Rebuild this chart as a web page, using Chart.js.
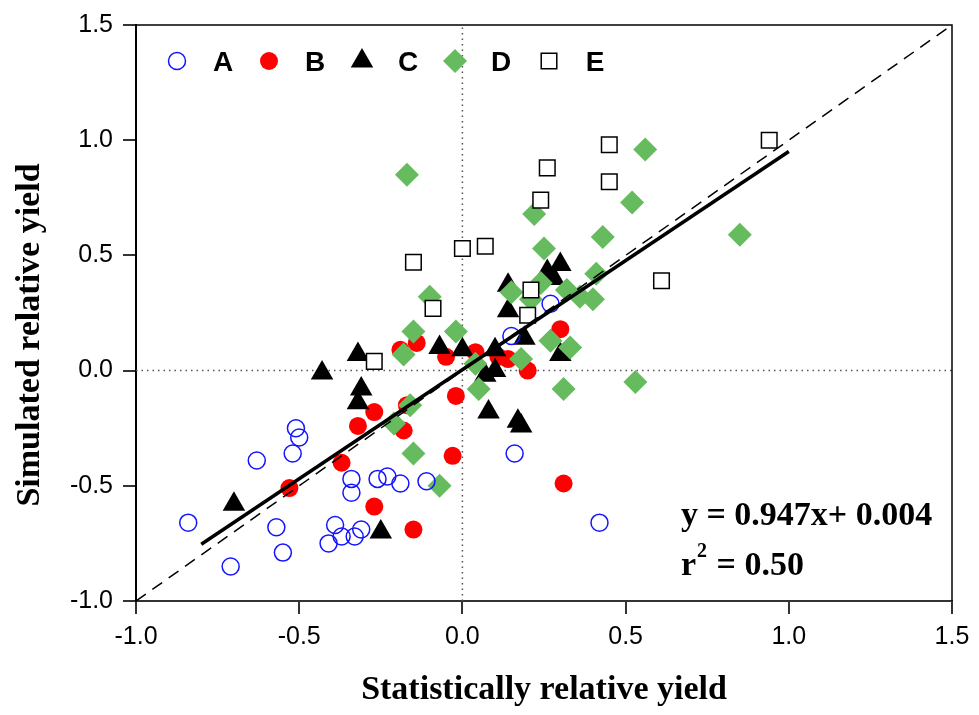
<!DOCTYPE html>
<html>
<head>
<meta charset="utf-8">
<script src="https://cdn.jsdelivr.net/npm/chart.js@4.4.1/dist/chart.umd.min.js"></script>
<style>
  body { margin: 0; background: #fff; }
  #wrap { width: 979px; height: 715px; }
</style>
</head>
<body>
<div id="wrap"><canvas id="myChart"></canvas></div>
<script>
// data
const aX = [-0.51, -0.50, -0.52, -0.63, -0.34, -0.34, -0.26, -0.23, -0.19, -0.11, -0.84, -0.57, -0.55, -0.71, -0.39, -0.37, -0.41, -0.31, -0.33, 0.27, 0.15, 0.16, 0.42];
const aY = [-0.25, -0.29, -0.36, -0.39, -0.47, -0.53, -0.47, -0.46, -0.49, -0.48, -0.66, -0.68, -0.79, -0.85, -0.67, -0.72, -0.75, -0.69, -0.72, 0.29, 0.15, -0.36, -0.66];

const bX = [-0.27, -0.32, -0.18, -0.17, -0.03, -0.37, -0.53, -0.27, -0.15, -0.02, -0.14, -0.19, -0.05, 0.04, 0.11, 0.14, 0.20, 0.30, 0.31];
const bY = [-0.18, -0.24, -0.26, -0.15, -0.37, -0.40, -0.51, -0.59, -0.69, -0.11, 0.12, 0.09, 0.06, 0.08, 0.06, 0.05, 0.00, 0.18, -0.49];

const cX = [-0.43, -0.32, -0.31, -0.32, -0.07, 0.00, 0.10, 0.07, 0.10, 0.08, 0.17, 0.18, 0.19, 0.14, 0.14, 0.30, 0.26, 0.28, 0.30, -0.70, -0.25];
const cY = [-0.01, 0.07, -0.08, -0.14, 0.10, 0.09, 0.09, -0.02, 0.00, -0.18, -0.22, -0.24, 0.14, 0.26, 0.37, 0.46, 0.43, 0.40, 0.07, -0.58, -0.70];

const dX = [-0.17, 0.56, 0.52, 0.22, 0.43, 0.25, -0.10, 0.41, 0.15, 0.32, 0.36, 0.40, 0.24, 0.21, 0.85, -0.02, 0.27, 0.33, 0.18, 0.04, 0.05, 0.31, 0.53, -0.15, -0.18, -0.16, -0.21, -0.15, -0.07];
const dY = [0.85, 0.96, 0.73, 0.68, 0.58, 0.53, 0.32, 0.42, 0.34, 0.35, 0.32, 0.31, 0.38, 0.31, 0.59, 0.17, 0.13, 0.10, 0.05, 0.03, -0.08, -0.08, -0.05, 0.17, 0.07, -0.15, -0.23, -0.36, -0.50];

const eX = [0.45, 0.26, 0.45, 0.24, 0.07, 0.00, -0.15, 0.61, 0.21, -0.09, 0.20, 0.94, -0.27];
const eY = [0.98, 0.88, 0.82, 0.74, 0.54, 0.53, 0.47, 0.39, 0.35, 0.27, 0.24, 1.00, 0.04];

const seriesNames = ['A', 'B', 'C', 'D', 'E'];
const axisTicks = [-1.0, -0.5, 0.0, 0.5, 1.0, 1.5];

const slope = 0.947;
const intercept = 0.004;
const fitX = [-0.8, 1.0];
const oneX = [-1.0, 1.5];

function pts(xs, ys) {
  return xs.map((x, i) => ({ x: x, y: ys[i] }));
}

const green = '#66bb5f';

const dsA = { label: 'A', data: pts(aX, aY), pointStyle: 'circle', pointRadius: 8.5, borderColor: '#1414ff', backgroundColor: 'rgba(0,0,0,0)', borderWidth: 1.5, order: 3 };
const dsB = { label: 'B', data: pts(bX, bY), pointStyle: 'circle', pointRadius: 9, borderColor: '#ff0000', backgroundColor: '#ff0000', borderWidth: 0, order: 6 };
const dsC = { label: 'C', data: pts(cX, cY), pointStyle: 'triangle', pointRadius: 13, borderColor: '#000', backgroundColor: '#000', borderWidth: 0, order: 5 };
const dsD = { label: 'D', data: pts(dX, dY), pointStyle: 'rectRot', pointRadius: 12, borderColor: green, backgroundColor: green, borderWidth: 0, order: 4 };
const dsE = { label: 'E', data: pts(eX, eY), pointStyle: 'rect', pointRadius: 11, borderColor: '#000', backgroundColor: '#fff', borderWidth: 1.5, order: 2 };
const legendSets = [dsA, dsB, dsC, dsD, dsE];

// frame, axis titles, legend and equation
const extras = {
  id: 'extras',
  afterDraw(chart) {
    const ctx = chart.ctx;
    const a = chart.chartArea;
    ctx.save();
    ctx.strokeStyle = '#000';
    ctx.lineWidth = 1.5;
    ctx.beginPath();
    ctx.moveTo(a.left, a.top);
    ctx.lineTo(a.right, a.top);
    ctx.lineTo(a.right, a.bottom);
    ctx.stroke();

    ctx.fillStyle = '#000';
    ctx.font = 'bold 34px "Liberation Serif", "Times New Roman", serif';
    ctx.textAlign = 'center';
    ctx.textBaseline = 'middle';
    ctx.fillText('Statistically relative yield', (a.left + a.right) / 2, 690);
    ctx.save();
    ctx.translate(30, 335);
    ctx.rotate(-Math.PI / 2);
    ctx.fillText('Simulated relative yield', 0, 0);
    ctx.restore();

    // equation
    ctx.textAlign = 'left';
    ctx.textBaseline = 'alphabetic';
    ctx.fillText('y = ' + slope.toFixed(3) + 'x+ ' + intercept.toFixed(3), 681, 525);
    ctx.fillText('r', 681, 575);
    const rw = ctx.measureText('r').width;
    ctx.font = 'bold 20px "Liberation Serif", serif';
    ctx.fillText('2', 681 + rw + 1, 557);
    ctx.font = 'bold 34px "Liberation Serif", "Times New Roman", serif';
    ctx.fillText(' = 0.50', 681 + rw + 12, 575);

    // legend
    const lx = [177, 269, 362, 455, 549];
    const ly = 61;
    ctx.font = 'bold 28px "Liberation Sans", Arial, sans-serif';
    ctx.textBaseline = 'middle';
    ctx.textAlign = 'center';
    legendSets.forEach((ds, i) => {
      ctx.fillStyle = ds.backgroundColor;
      ctx.strokeStyle = ds.borderColor;
      ctx.lineWidth = ds.borderWidth;
      Chart.helpers.drawPoint(ctx, {
        pointStyle: ds.pointStyle,
        radius: ds.pointRadius,
        rotation: 0,
        borderWidth: ds.borderWidth
      }, lx[i], ly);
      ctx.fillStyle = '#000';
      ctx.fillText(seriesNames[i], lx[i] + 46, ly + 2);
    });
    ctx.restore();
  }
};

const tickFont = { family: '"Liberation Sans", Arial, sans-serif', size: 25 };

new Chart(document.getElementById('myChart'), {
  type: 'scatter',
  data: {
    datasets: [
      { data: fitX.map(x => ({ x: x, y: slope * x + intercept })), showLine: true, borderColor: '#000', borderWidth: 3.5, pointRadius: 0, order: 0 },
      { data: oneX.map(x => ({ x: x, y: x })), showLine: true, borderColor: '#000', borderWidth: 1.5, borderDash: [12, 8], pointRadius: 0, order: 1 },
      dsE, dsA, dsD, dsC, dsB,
      { data: [{ x: 0, y: -1.0 }, { x: 0, y: 1.5 }], showLine: true, borderColor: '#555', borderWidth: 1.5, borderDash: [1.5, 4], pointRadius: 0, order: 7 },
      { data: [{ x: -1.0, y: 0 }, { x: 1.5, y: 0 }], showLine: true, borderColor: '#555', borderWidth: 1.5, borderDash: [1.5, 4], pointRadius: 0, order: 7 }
    ]
  },
  options: {
    responsive: true,
    maintainAspectRatio: false,
    animation: false,
    layout: { padding: { left: 0, right: 27, top: 23, bottom: 0 } },
    plugins: {
      legend: { display: false },
      tooltip: { enabled: false }
    },
    scales: {
      x: {
        type: 'linear',
        min: axisTicks[0],
        max: axisTicks[axisTicks.length - 1],
        afterBuildTicks: s => { s.ticks = axisTicks.map(v => ({ value: v })); },
        afterFit: s => { s.height = 114; },
        border: { color: '#333', width: 2 },
        grid: { drawOnChartArea: false, drawTicks: true, tickLength: 13, color: '#333', lineWidth: 2 },
        ticks: { color: '#000', font: tickFont, padding: 8, callback: v => v.toFixed(1) }
      },
      y: {
        type: 'linear',
        min: axisTicks[0],
        max: axisTicks[axisTicks.length - 1],
        afterBuildTicks: s => { s.ticks = axisTicks.map(v => ({ value: v })); },
        afterFit: s => { s.width = 136; },
        border: { color: '#000', width: 2 },
        grid: { drawOnChartArea: false, drawTicks: true, tickLength: 13, color: '#333', lineWidth: 2 },
        ticks: { color: '#000', font: tickFont, padding: 10, callback: v => v.toFixed(1) }
      }
    }
  },
  plugins: [extras]
});
</script>
</body>
</html>
